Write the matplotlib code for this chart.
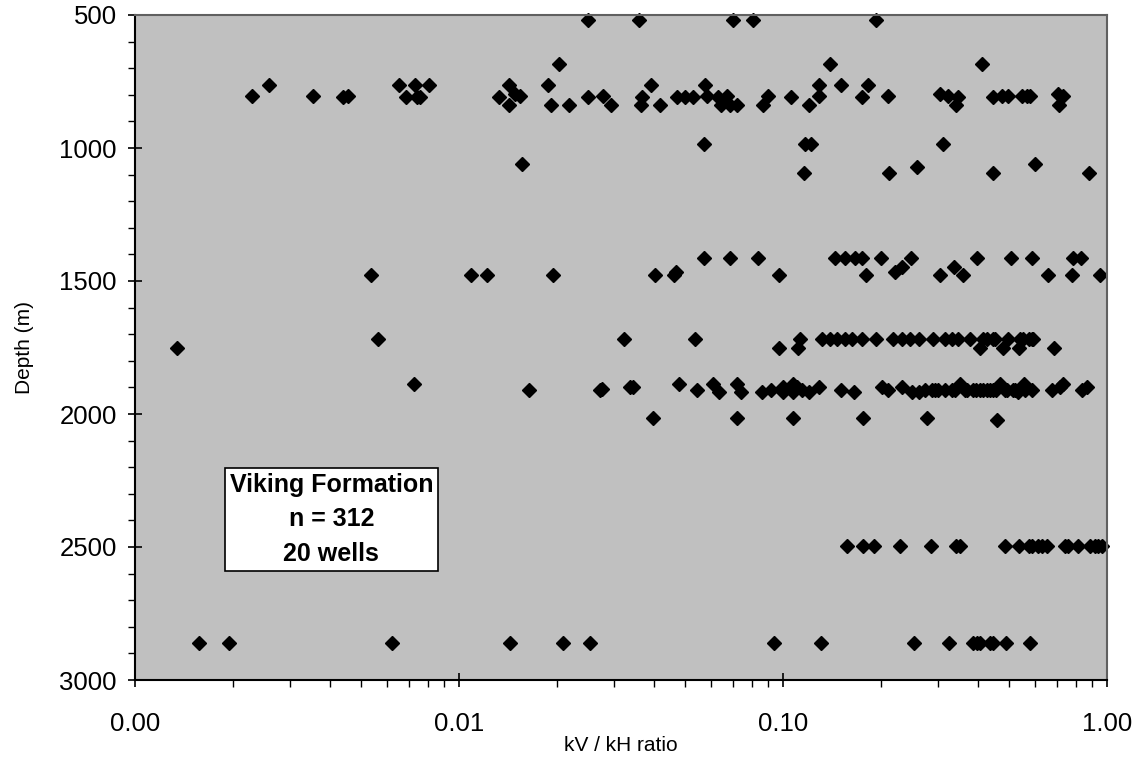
import numpy as np
import matplotlib.pyplot as plt
from matplotlib.ticker import FixedLocator, FuncFormatter, LogLocator, MultipleLocator

plt.rcParams['font.family'] = ['Liberation Sans', 'DejaVu Sans']

# kV/kH ratio readings grouped by sample depth (m)
r_520 = [0.0251, 0.0359, 0.0703, 0.0806, 0.193]
r_684 = [0.0203, 0.1397, 0.412]
r_762 = [0.0026, 0.00655, 0.0073, 0.0081, 0.0143, 0.0188, 0.0392, 0.0574,
         0.1294, 0.1507, 0.1834]
r_797 = [0.0149, 0.305, 0.708]
r_803 = [0.0023, 0.00355, 0.00455, 0.0154, 0.0279, 0.0584, 0.067, 0.0901,
         0.1294, 0.2105, 0.324, 0.473, 0.496, 0.545, 0.565, 0.578, 0.733]
r_809 = [0.0044, 0.00686, 0.0074, 0.0076, 0.01327, 0.0251, 0.0368, 0.047,
         0.0499, 0.0529, 0.0631, 0.1059, 0.175, 0.3475, 0.444]
r_840 = [0.0143, 0.0192, 0.0219, 0.0294, 0.0364, 0.0417, 0.0644, 0.0686,
         0.0722, 0.0869, 0.120, 0.342, 0.713]
r_986 = [0.057, 0.117, 0.122, 0.312]
r_1062 = [0.0156, 0.600]
r_1070 = [0.260]
r_1093 = [0.116, 0.213, 0.444, 0.880]
r_1415 = [0.057, 0.0686, 0.0839, 0.1446, 0.1553, 0.1668, 0.175, 0.2006,
          0.248, 0.398, 0.504, 0.586, 0.787, 0.832]
r_1446 = [0.2325, 0.338]
r_1465 = [0.0468, 0.222]
r_1478 = [0.00535, 0.01087, 0.01218, 0.0195, 0.0403, 0.0461, 0.0972, 0.181,
          0.305, 0.36, 0.659, 0.778, 0.951]
r_1718 = [0.00561, 0.0323, 0.0535, 0.1127, 0.1316, 0.1397, 0.1465, 0.1553,
          0.163, 0.175, 0.193, 0.219, 0.2325, 0.2466, 0.262, 0.291, 0.316,
          0.332, 0.3475, 0.378, 0.415, 0.425, 0.446, 0.451, 0.496, 0.539,
          0.552, 0.573, 0.586, 0.593]
r_1752 = [0.001345, 0.0972, 0.1115, 0.405, 0.479, 0.536, 0.686]
r_1889 = [0.00728, 0.0477, 0.0607, 0.0719, 0.1076, 0.352, 0.467, 0.554, 0.733]
r_1897 = [0.0337, 0.0345, 0.0998, 0.1103, 0.1294, 0.2017, 0.2325, 0.716,
          0.865]
r_1905 = [0.0276]
r_1910 = [0.0164, 0.0273, 0.0541, 0.0916, 0.1142, 0.1507, 0.2113, 0.274,
          0.2877, 0.295, 0.3015, 0.316, 0.332, 0.34, 0.365, 0.37, 0.387,
          0.395, 0.405, 0.415, 0.425, 0.435, 0.446, 0.455, 0.484, 0.49,
          0.514, 0.52, 0.56, 0.586, 0.675, 0.835]
r_1916 = [0.0636, 0.074, 0.086, 0.0998, 0.1076, 0.1205, 0.166, 0.2496,
          0.262, 0.532]
r_2016 = [0.0398, 0.0722, 0.1076, 0.177, 0.2775]
r_2023 = [0.457]
r_2496 = [0.158, 0.177, 0.191, 0.2297, 0.2864, 0.342, 0.352, 0.484, 0.536,
          0.573, 0.586, 0.614, 0.629, 0.651, 0.742, 0.760, 0.815, 0.887,
          0.918, 0.94, 0.964]
r_2860 = [0.00158, 0.00195, 0.00622, 0.01434, 0.021, 0.0254, 0.0938, 0.131,
          0.2536, 0.325, 0.387, 0.396, 0.405, 0.435, 0.446, 0.488, 0.578]

rows = [(r_520, 520), (r_684, 684), (r_762, 762), (r_797, 797), (r_803, 803),
        (r_809, 809), (r_840, 840), (r_986, 986), (r_1062, 1062),
        (r_1070, 1070), (r_1093, 1093), (r_1415, 1415), (r_1446, 1446),
        (r_1465, 1465), (r_1478, 1478), (r_1718, 1718), (r_1752, 1752),
        (r_1889, 1889), (r_1897, 1897), (r_1905, 1905), (r_1910, 1910),
        (r_1916, 1916), (r_2016, 2016), (r_2023, 2023), (r_2496, 2496),
        (r_2860, 2860)]

ratio = np.concatenate([np.array(r) for r, d in rows])
depth = np.concatenate([np.full(len(r), d) for r, d in rows])

fig = plt.figure(figsize=(11.37, 7.59), dpi=100)
ax = fig.add_axes([135 / 1137, 1 - 680 / 759, 972 / 1137, 665 / 759])
ax.set_facecolor('#C0C0C0')

ax.plot(ratio, depth, linestyle='none', marker='D', ms=7.5, color='black',
        clip_on=False)

ax.set_xscale('log')
ax.set_xlim(0.001, 1)
ax.set_ylim(3000, 500)

ax.xaxis.set_major_locator(FixedLocator([0.001, 0.01, 0.1, 1]))
ax.xaxis.set_major_formatter(FuncFormatter(lambda v, p: '%.2f' % v))
ax.xaxis.set_minor_locator(LogLocator(base=10, subs=np.arange(2, 10)))
ax.xaxis.set_minor_formatter(FuncFormatter(lambda v, p: ''))
ax.yaxis.set_major_locator(MultipleLocator(500))
ax.yaxis.set_minor_locator(MultipleLocator(100))

ax.tick_params(which='major', direction='inout', length=10, width=1.2,
               labelsize=18.5, pad=8)
ax.tick_params(which='minor', direction='out', length=5, width=1)
ax.tick_params(axis='x', which='major', pad=18)

ax.set_xlabel('kV / kH ratio', fontsize=15, labelpad=0)
ax.set_ylabel('Depth (m)', fontsize=15, labelpad=18)

for side in ['left', 'bottom']:
    ax.spines[side].set_linewidth(1.5)
    ax.spines[side].set_color('black')
for side in ['top', 'right']:
    ax.spines[side].set_linewidth(1.5)
    ax.spines[side].set_color('#606060')

ax.text(0.202, 0.242, 'Viking Formation\nn = 312\n20 wells',
        transform=ax.transAxes, ha='center', va='center', fontsize=18,
        fontweight='bold', linespacing=1.55,
        bbox=dict(boxstyle='square,pad=0.2', facecolor='white',
                  edgecolor='black', linewidth=1.2))

fig.savefig('out.png', dpi=100)
